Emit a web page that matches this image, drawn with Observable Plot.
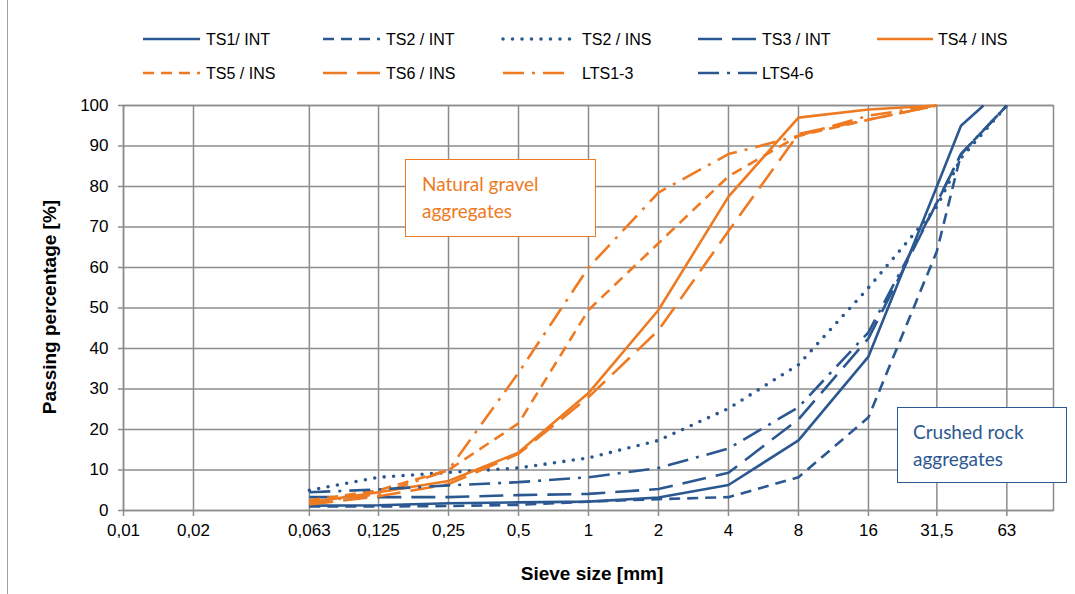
<!DOCTYPE html>
<html>
<head>
<meta charset="utf-8">
<script src="https://cdn.jsdelivr.net/npm/d3@7"></script>
<script src="https://cdn.jsdelivr.net/npm/@observablehq/plot@0.6"></script>
<style>
html, body { margin: 0; padding: 0; background: #fff; }
#wrap { position: relative; width: 1075px; height: 594px; overflow: hidden; font-family: "Liberation Sans", Arial, sans-serif; background: #fff; }
#wrap > svg { position: absolute; left: 0; top: 0; }
#legend { position: absolute; left: 0; top: 0; }
.edge { position: absolute; left: 7px; top: 0; width: 0; height: 594px; border-left: 1.5px solid #a0a0a0; }
.note { position: absolute; box-sizing: border-box; background: #fff; font-family: Lato, "Open Sans", sans-serif; font-size: 19px; line-height: 27px; }
.ytitle { position: absolute; left: 50px; top: 307px; transform: translate(-50%, -50%) rotate(-90deg); white-space: nowrap; font-weight: bold; font-size: 19px; color: #000; }
.xtitle { position: absolute; left: 592px; top: 574px; transform: translate(-50%, -50%); white-space: nowrap; font-weight: bold; font-size: 19px; color: #000; }
</style>
</head>
<body>
<div id="wrap"></div>
<script>
// ---------- data ----------
const sieveTicks = [0.01, 0.02, 0.063, 0.125, 0.25, 0.5, 1, 2, 4, 8, 16, 31.5, 63];
const percentTicks = [0, 10, 20, 30, 40, 50, 60, 70, 80, 90, 100];

const blueSieves   = [0.063, 0.125, 0.25, 0.5, 1, 2, 4, 8, 16, 31.5, 40, 63];
const ts1Sieves    = [0.063, 0.125, 0.25, 0.5, 1, 2, 4, 8, 16, 31.5, 40, 50];
const orangeSieves = [0.063, 0.125, 0.25, 0.5, 1, 2, 4, 8, 16, 31.5];

const ts1Int = [1.2, 1.3, 1.8, 2.0, 2.2, 3.2, 6.3, 17.3, 38, 80, 95, 100];
const ts2Int = [1.0, 1.0, 1.1, 1.4, 2.2, 2.8, 3.3, 8.2, 23, 64, 88, 100];
const ts2Ins = [5.0, 8.2, 9.4, 10.5, 13, 17.3, 25.2, 36, 55, 75, 87, 100];
const ts3Int = [3.3, 3.3, 3.3, 3.8, 4.1, 5.3, 9.3, 22.5, 42.5, 76, 88, 100];
const lts46  = [4.5, 5.2, 6.2, 7.0, 8.2, 10.5, 15.3, 25.5, 44, 76, 88, 100];

const ts4Ins = [2.0, 4.5, 7.3, 14.3, 29, 49.5, 77.5, 97, 99, 100];
const ts5Ins = [2.5, 5.0, 10, 21.5, 49.5, 66, 82.5, 92.5, 96.5, 100];
const ts6Ins = [1.5, 3.5, 6.5, 14, 28, 44.5, 69, 93, 96.5, 100];
const lts13  = [2.0, 4.0, 10, 34, 60, 78.5, 88, 92.5, 97.5, 100];

const seriesNames = ["TS1/ INT", "TS2 / INT", "TS2 / INS", "TS3 / INT", "TS4 / INS",
                     "TS5 / INS", "TS6 / INS", "LTS1-3", "LTS4-6"];

// ---------- styles ----------
const BLUE = "#2b5891", ORANGE = "#ee7a22", GRID = "#8c8c8c";
const styles = {
  "TS1/ INT":  {color: BLUE,   dash: null,         cap: "butt",  w: 2.6},
  "TS2 / INT": {color: BLUE,   dash: "11,7",       cap: "butt",  w: 2.6},
  "TS2 / INS": {color: BLUE,   dash: "0,9.5",      cap: "round", w: 3.6},
  "TS3 / INT": {color: BLUE,   dash: "24,10",      cap: "butt",  w: 2.6},
  "TS4 / INS": {color: ORANGE, dash: null,         cap: "butt",  w: 2.6},
  "TS5 / INS": {color: ORANGE, dash: "11,7",       cap: "butt",  w: 2.6},
  "TS6 / INS": {color: ORANGE, dash: "24,10",      cap: "butt",  w: 2.6},
  "LTS1-3":    {color: ORANGE, dash: "21,8,3,8",   cap: "butt",  w: 2.6},
  "LTS4-6":    {color: BLUE,   dash: "21,8,3,8",   cap: "butt",  w: 2.6}
};
const seriesData = {
  "TS1/ INT":  [ts1Sieves, ts1Int],
  "TS2 / INT": [blueSieves, ts2Int],
  "TS2 / INS": [blueSieves, ts2Ins],
  "TS3 / INT": [blueSieves, ts3Int],
  "TS4 / INS": [orangeSieves, ts4Ins],
  "TS5 / INS": [orangeSieves, ts5Ins],
  "TS6 / INS": [orangeSieves, ts6Ins],
  "LTS1-3":    [orangeSieves, lts13],
  "LTS4-6":    [blueSieves, lts46]
};
const rows = seriesNames.flatMap(name => {
  const [xs, ys] = seriesData[name];
  return xs.map((x, i) => ({series: name, x, y: ys[i]}));
});

const fmt = d => String(d).replace(".", ",");

const chart = Plot.plot({
  width: 1075, height: 594,
  marginLeft: 123, marginRight: 22, marginTop: 105, marginBottom: 84,
  style: {fontFamily: "'Liberation Sans', Arial, sans-serif", color: "#000", background: "transparent"},
  x: {type: "log", domain: [0.01, 100]},
  y: {domain: [0, 100]},
  marks: [
    Plot.gridX({ticks: sieveTicks, stroke: GRID, strokeOpacity: 1, strokeWidth: 1.5}),
    Plot.gridY({ticks: percentTicks, stroke: GRID, strokeOpacity: 1, strokeWidth: 1.5}),
    Plot.frame({stroke: GRID, strokeWidth: 1.5}),
    Plot.axisX({ticks: sieveTicks, tickFormat: () => "", tickSize: 6,
                stroke: GRID, strokeWidth: 1.5, label: null}),
    Plot.text(sieveTicks, {x: d => d, text: fmt, frameAnchor: "bottom", lineAnchor: "top",
                dy: 13, fontSize: 17, fill: "#000"}),
    Plot.axisY({ticks: percentTicks, tickSize: 5, tickPadding: 10, fontSize: 17,
                stroke: GRID, strokeWidth: 1.5, label: null}),
    ...seriesNames.map(name => Plot.line(rows.filter(r => r.series === name), {
      x: "x", y: "y",
      stroke: styles[name].color,
      strokeWidth: styles[name].w,
      strokeDasharray: styles[name].dash,
      strokeLinecap: styles[name].cap,
      strokeLinejoin: "round"
    }))
  ]
});

const wrap = document.getElementById("wrap");
wrap.appendChild(chart);

// left edge of chart area
const edge = document.createElement("div");
edge.className = "edge";
wrap.appendChild(edge);

// axis titles
const yt = document.createElement("div");
yt.className = "ytitle"; yt.textContent = "Passing percentage [%]";
wrap.appendChild(yt);
const xt = document.createElement("div");
xt.className = "xtitle"; xt.textContent = "Sieve size [mm]";
wrap.appendChild(xt);

// legend
const legendLayout = [
  {row: 0, col: 0}, {row: 0, col: 1}, {row: 0, col: 2}, {row: 0, col: 3}, {row: 0, col: 4},
  {row: 1, col: 0}, {row: 1, col: 1}, {row: 1, col: 2}, {row: 1, col: 3}
];
const colSample = [[143, 200], [323, 380], [503, 570], [698, 757], [877, 933]];
const colText = [206, 386, 582, 762, 938];
const rowY = [39, 73];
const leg = d3.select(wrap).append("svg").attr("id", "legend").attr("width", 1075).attr("height", 95);
seriesNames.forEach((name, i) => {
  const {row, col} = legendLayout[i];
  const s = styles[name];
  leg.append("line")
    .attr("x1", colSample[col][0]).attr("x2", colSample[col][1])
    .attr("y1", rowY[row]).attr("y2", rowY[row])
    .attr("stroke", s.color).attr("stroke-width", s.w)
    .attr("stroke-dasharray", s.dash).attr("stroke-linecap", s.cap);
  leg.append("text")
    .attr("x", colText[col]).attr("y", rowY[row]).attr("dy", "0.35em")
    .attr("font-size", 16).attr("font-family", "'Liberation Sans', Arial, sans-serif")
    .attr("fill", "#000").text(name);
});

// annotation boxes
function note(text, color, left, top, w, h, padL, padT) {
  const d = document.createElement("div");
  d.className = "note";
  Object.assign(d.style, {left: left + "px", top: top + "px", width: w + "px", height: h + "px",
    border: "1.5px solid " + color, color, paddingLeft: padL + "px", paddingTop: padT + "px"});
  d.innerHTML = text;
  wrap.appendChild(d);
}
note("Natural gravel<br>aggregates", ORANGE, 405, 159, 191, 78, 16, 10);
note("Crushed rock<br>aggregates", BLUE, 897, 407, 170, 76, 15, 10);
</script>
</body>
</html>
